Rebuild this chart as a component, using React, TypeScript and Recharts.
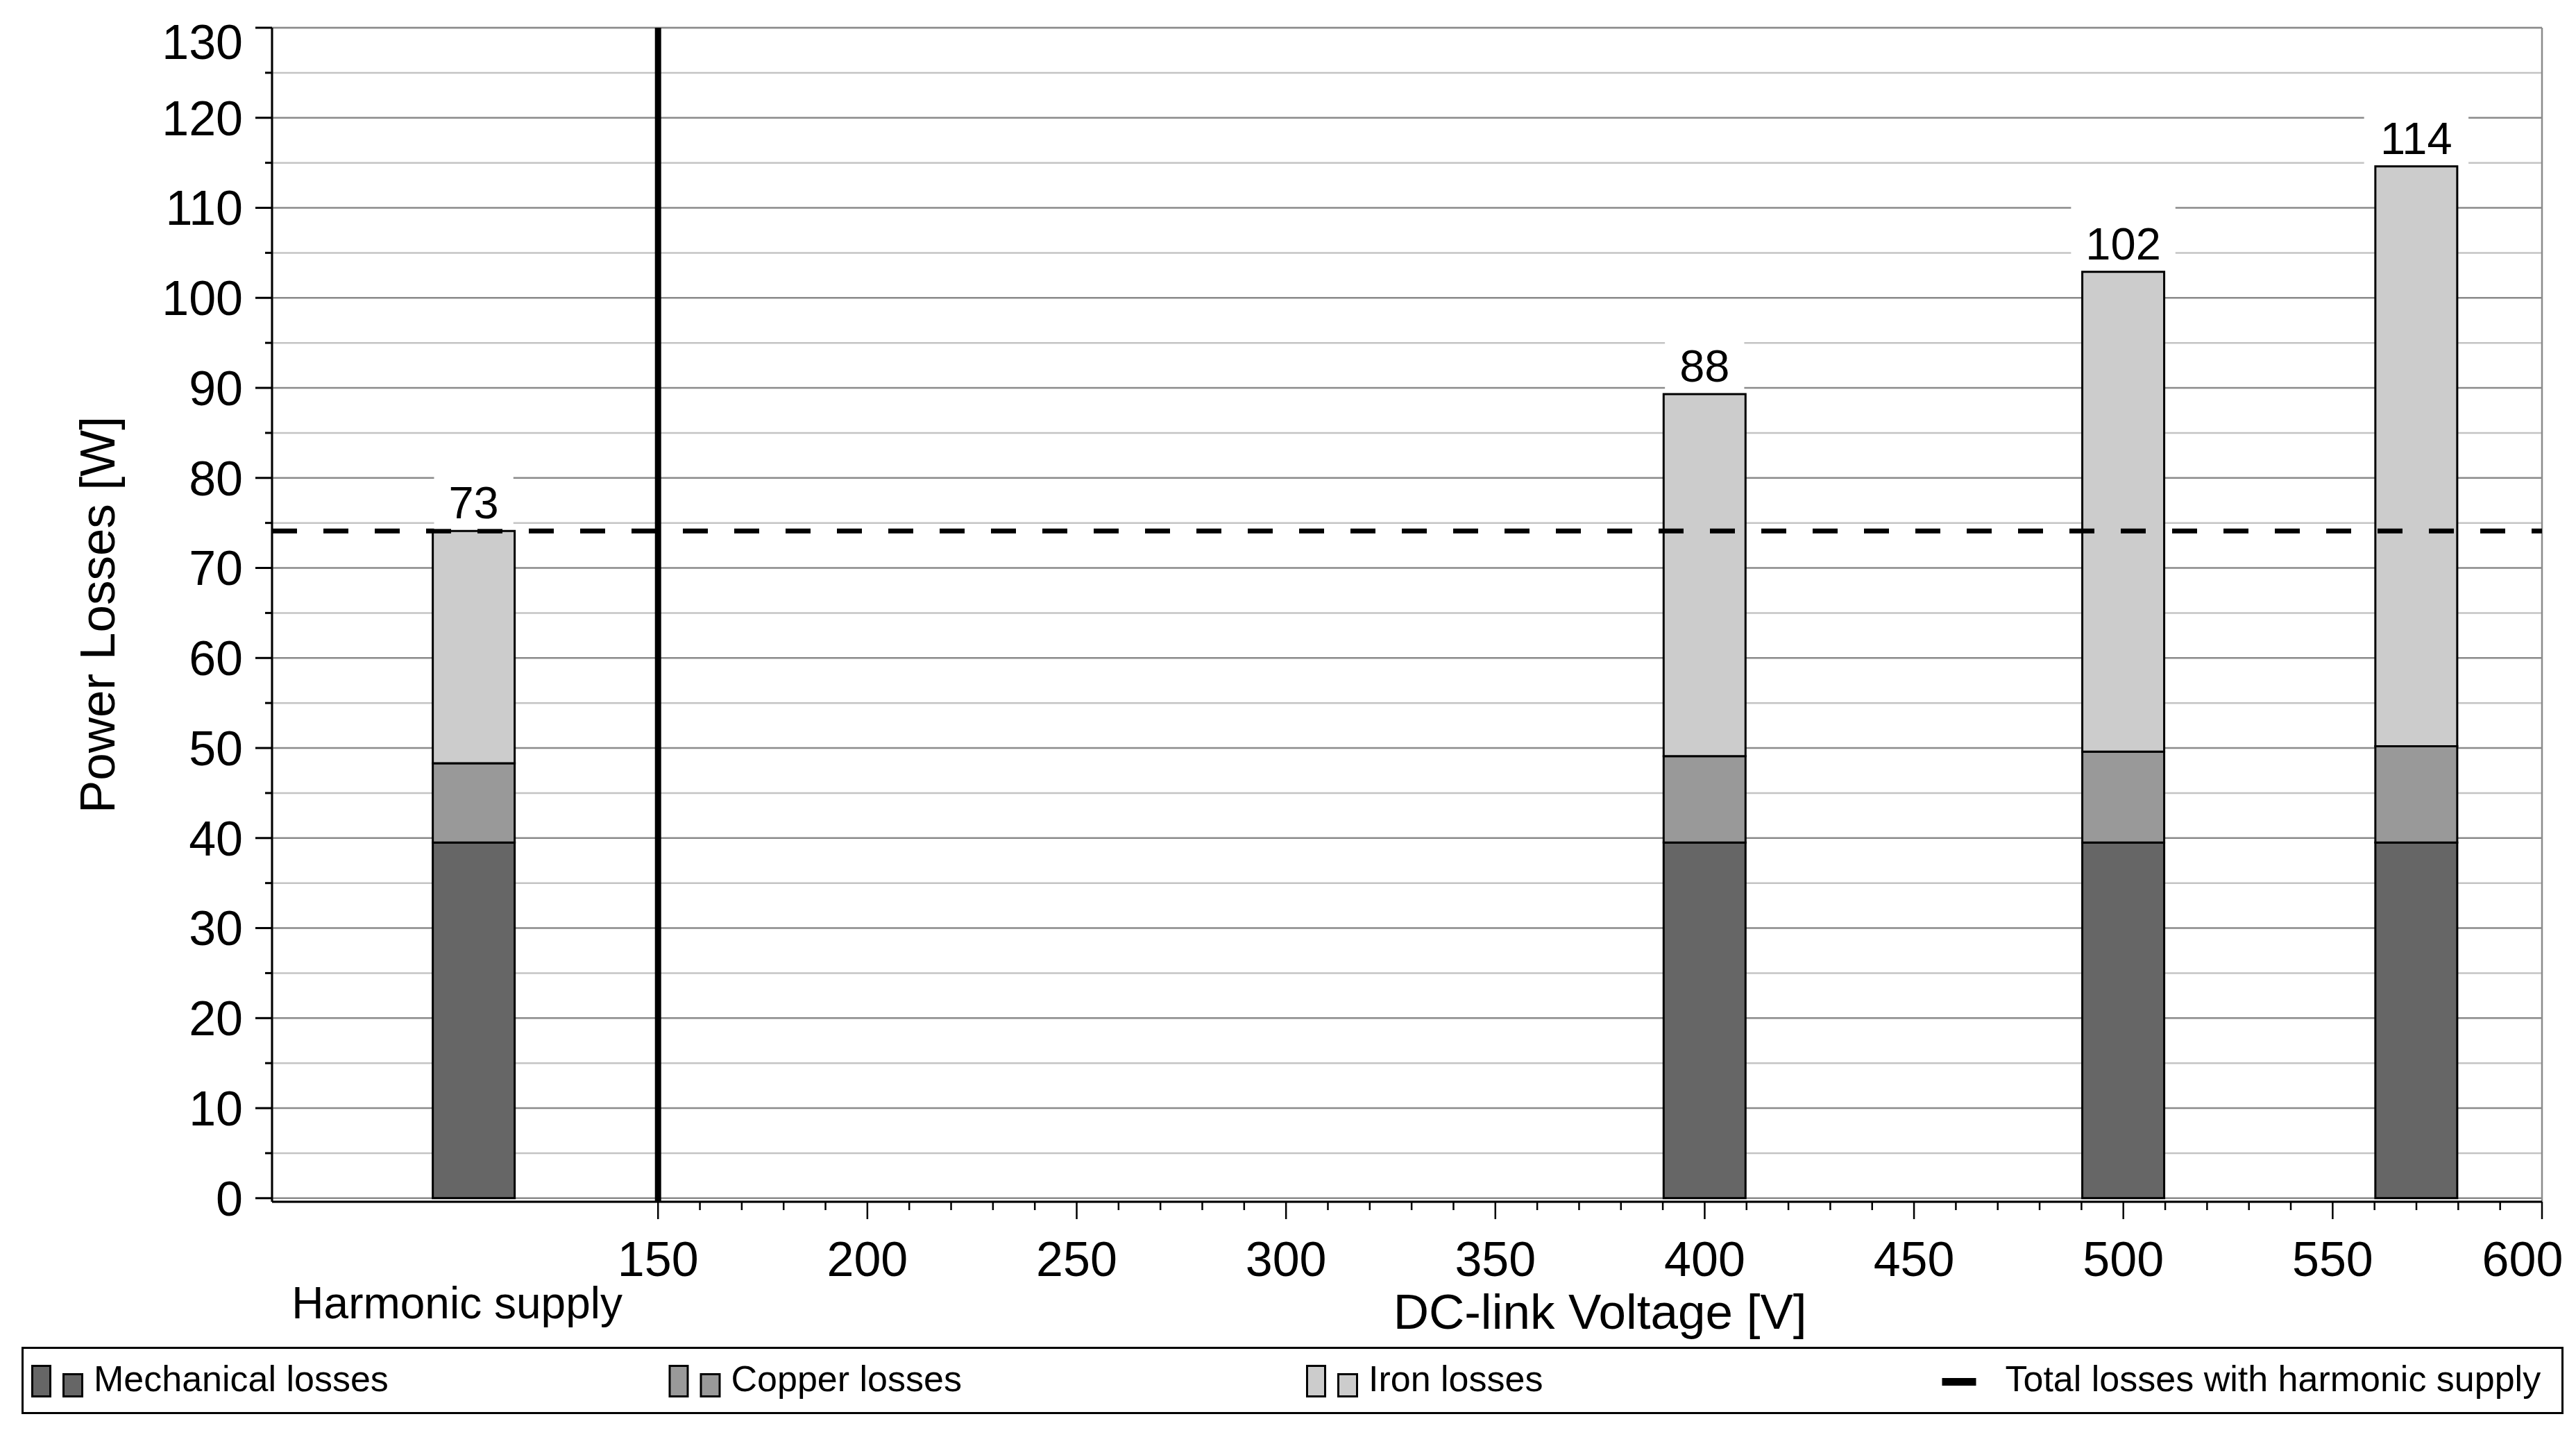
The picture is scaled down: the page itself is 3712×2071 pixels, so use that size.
import React from 'react';
import {
  ComposedChart,
  Bar,
  XAxis,
  YAxis,
  CartesianGrid,
  ReferenceLine,
  LabelList,
  Legend,
} from 'recharts';

const FONT = '"Liberation Sans", Arial, Helvetica, sans-serif';

// ---------- data ----------
const voltages = [106, 400, 500, 570];
const mechanicalLosses = [39.5, 39.5, 39.5, 39.5];
const copperLosses = [8.8, 9.6, 10.1, 10.7];
const ironLosses = [25.8, 40.2, 53.3, 64.4];
const totalLabels = [73, 88, 102, 114];
const harmonicSupplyTotal = 74.1;
const separatorVoltage = 150;

// ---------- axes ----------
const xDomain = [57.8, 600];
const xMajorTicks = [150, 200, 250, 300, 350, 400, 450, 500, 550, 600];
const xMinorTicks = xMajorTicks.slice(0, -1).flatMap((t) => [t + 10, t + 20, t + 30, t + 40]);
const yDomain = [-0.4, 130];
const yMajorTicks = [0, 10, 20, 30, 40, 50, 60, 70, 80, 90, 100, 110, 120, 130];
const yMinorTicks = [5, 15, 25, 35, 45, 55, 65, 75, 85, 95, 105, 115, 125];
const yMajorGridTicks = yMajorTicks.slice(0, -1);

const categoryLabel = 'Harmonic supply';
const categoryLabelAt = 102;
const xTitle = 'DC-link Voltage [V]';
const xTitleAt = 375;
const yTitle = 'Power Losses [W]';

const seriesKeys = ['mechanical', 'copper', 'iron'];
const seriesNames = ['Mechanical losses', 'Copper losses', 'Iron losses', 'Total losses with harmonic supply'];
const seriesColors = ['#666666', '#999999', '#cccccc', '#000000'];

const data = voltages.map((v, i) => ({
  voltage: v,
  mechanical: mechanicalLosses[i],
  copper: copperLosses[i],
  iron: ironLosses[i],
  total: totalLabels[i],
}));

const allXTicks = [categoryLabelAt, ...xMajorTicks, ...xMinorTicks, xTitleAt].sort((a, b) => a - b);
const allYTicks = [...yMajorTicks, ...yMinorTicks].sort((a, b) => a - b);

const W = 3712;
const H = 2071;

const X_TICK_SIZE = 25;
const X_TICK_MARGIN = 30;
const Y_TICK_SIZE = 24;
const Y_TICK_MARGIN = 18;

const XTick = (props: any) => {
  const { x, y, payload } = props;
  const v = payload.value;
  const axisY = y - X_TICK_SIZE - X_TICK_MARGIN;
  if (v === categoryLabelAt) {
    return (
      <text x={x} y={axisY + 168} textAnchor="middle" fontSize={64} fontFamily={FONT} fill="#000">
        {categoryLabel}
      </text>
    );
  }
  if (v === xTitleAt) {
    return (
      <text x={x} y={axisY + 183} textAnchor="middle" fontSize={71} fontFamily={FONT} fill="#000">
        {xTitle}
      </text>
    );
  }
  const major = xMajorTicks.includes(v);
  const last = v === xMajorTicks[xMajorTicks.length - 1];
  return (
    <g>
      <line x1={x} x2={x} y1={axisY} y2={axisY + (major ? 25 : 12)} stroke="#000" strokeWidth={2.5} />
      {major && (
        <text x={last ? x - 28 : x} y={axisY + 107} textAnchor="middle" fontSize={70} fontFamily={FONT} fill="#000">
          {v}
        </text>
      )}
    </g>
  );
};

const YTick = (props: any) => {
  const { x, y, payload } = props;
  const v = payload.value;
  const axisX = x + Y_TICK_SIZE + Y_TICK_MARGIN;
  const major = yMajorTicks.includes(v);
  return (
    <g>
      <line x1={axisX - (major ? 24 : 10)} x2={axisX} y1={y} y2={y} stroke="#000" strokeWidth={3} />
      {major && (
        <text
          x={axisX - 42}
          y={Math.max(y, 60)}
          dy="0.355em"
          textAnchor="end"
          fontSize={70}
          fontFamily={FONT}
          fill="#000"
        >
          {v}
        </text>
      )}
    </g>
  );
};

const TotalLabel = (props: any) => {
  const vb = props.viewBox || {};
  const x = Number(props.x ?? vb.x);
  const y = Number(props.y ?? vb.y);
  const width = Number(props.width ?? vb.width);
  const text = String(props.value);
  const cx = x + width / 2;
  const textW = text.length * 0.556 * 65;
  const boxW = textW + 42;
  return (
    <g>
      <rect x={cx - boxW / 2} y={y - 95} width={boxW} height={92} fill="#ffffff" />
      <text x={cx} y={y - 18} textAnchor="middle" fontSize={65} fontFamily={FONT} fill="#000">
        {text}
      </text>
    </g>
  );
};

const LegendContent = () => {
  const step = 918.5;
  return (
    <svg width={3663} height={97} style={{ display: 'block' }}>
      <rect x={1.5} y={1.5} width={3660} height={94} fill="#fff" stroke="#000" strokeWidth={3} />
      {seriesNames.map((name, i) => {
        const left = 14 + i * step;
        const isLine = i === seriesNames.length - 1;
        return (
          <g key={name}>
            {isLine ? (
              <rect x={left - 2} y={45} width={49} height={11} fill={seriesColors[i]} />
            ) : (
              <g>
                <rect x={left + 1.5} y={27.5} width={26} height={44} fill={seriesColors[i]} stroke="#000" strokeWidth={3} />
                <rect x={left + 46.5} y={39.5} width={27} height={32} fill={seriesColors[i]} stroke="#000" strokeWidth={3} />
              </g>
            )}
            <text x={left + (isLine ? 89 : 90)} y={64} fontSize={52} fontFamily={FONT} fill="#000">
              {name}
            </text>
          </g>
        );
      })}
    </svg>
  );
};

export default function App() {
  return (
    <div style={{ position: 'absolute', left: 0, top: 0, width: W, height: H, background: '#fff' }}>
      <ComposedChart width={W} height={H} data={data} margin={{ top: 40, right: 49, bottom: 33, left: 0 }}>
        <XAxis
          xAxisId="main"
          dataKey="voltage"
          type="number"
          domain={xDomain}
          allowDataOverflow
          ticks={allXTicks}
          interval={0}
          tick={XTick}
          tickLine={false}
          tickSize={X_TICK_SIZE}
          tickMargin={X_TICK_MARGIN}
          height={209}
          axisLine={{ stroke: '#000', strokeWidth: 3 }}
        />
        <XAxis xAxisId="grid" type="number" domain={xDomain} allowDataOverflow ticks={xMajorTicks} height={0} hide />
        <YAxis
          yAxisId="main"
          type="number"
          domain={yDomain}
          allowDataOverflow
          ticks={allYTicks}
          interval={0}
          tick={YTick}
          tickLine={false}
          tickSize={Y_TICK_SIZE}
          tickMargin={Y_TICK_MARGIN}
          width={392}
          axisLine={{ stroke: '#000', strokeWidth: 3 }}
          label={{
            value: yTitle,
            angle: -90,
            position: 'insideLeft',
            offset: 140,
            fontSize: 71,
            fontFamily: FONT,
            fill: '#000',
            style: { textAnchor: 'middle' },
          }}
        />
        <YAxis yAxisId="minorGrid" type="number" domain={yDomain} allowDataOverflow ticks={yMinorTicks} width={0} hide />
        <YAxis yAxisId="majorGrid" type="number" domain={yDomain} allowDataOverflow ticks={yMajorGridTicks} width={0} hide />

        <CartesianGrid xAxisId="main" yAxisId="minorGrid" vertical={false} stroke="#c4c4c4" strokeWidth={2.5} />
        <CartesianGrid xAxisId="main" yAxisId="majorGrid" vertical={false} stroke="#8a8a8a" strokeWidth={2.5} />
        <CartesianGrid xAxisId="grid" yAxisId="main" horizontal={false} stroke="#8a8a8a" strokeWidth={2.5} />

        {seriesKeys.map((key, i) => (
          <Bar
            key={key}
            xAxisId="main"
            yAxisId="main"
            dataKey={key}
            name={seriesNames[i]}
            stackId="losses"
            fill={seriesColors[i]}
            stroke="#000"
            strokeWidth={3}
            barSize={118}
            isAnimationActive={false}
          >
            {i === seriesKeys.length - 1 && <LabelList dataKey="total" content={TotalLabel} />}
          </Bar>
        ))}

        <ReferenceLine
          xAxisId="main"
          yAxisId="main"
          y={harmonicSupplyTotal}
          stroke="#000"
          strokeWidth={7}
          strokeDasharray="36 38"
        />
        <ReferenceLine xAxisId="main" yAxisId="main" x={separatorVoltage} stroke="#000" strokeWidth={9} />

        <Legend
          verticalAlign="bottom"
          content={LegendContent}
          wrapperStyle={{ left: 31, bottom: 33, width: 3663, height: 97 }}
        />
      </ComposedChart>
    </div>
  );
}
